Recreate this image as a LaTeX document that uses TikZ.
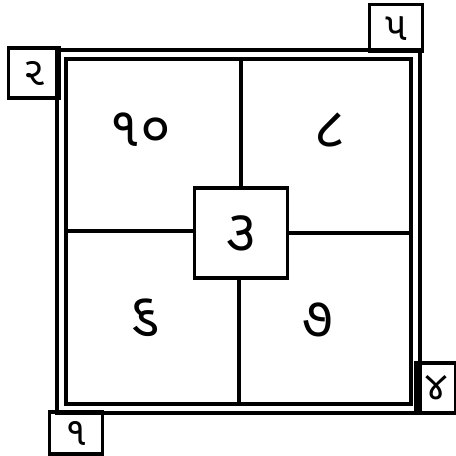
\documentclass[tikz,border=0pt]{standalone}
\usepackage{fontspec}
\newfontfamily\gujfont[Script=Gujarati]{Noto Sans Gujarati UI}
\usetikzlibrary{positioning}

\begin{document}
\begin{tikzpicture}[x=1bp, y=-1bp, line width=3.2pt,
    every node/.style={font=\gujfont},
    cellbox/.style={draw, line width=3.2pt, inner sep=0pt,
        font=\gujfont\fontsize{40}{40}\selectfont},
    numtext/.style={inner sep=0pt, font=\gujfont\fontsize{56}{56}\selectfont}]
  \useasboundingbox (0,0) rectangle (456,456);

  % double frame
  \draw (57,50) rectangle (420,413);
  \draw (66,59) rectangle (411,404);

  % centre box and the four fields
  \node[cellbox, fill=white, minimum width=93bp, minimum height=90bp,
        font=\gujfont\fontsize{58}{58}\selectfont] (mid) at (241,233) {૩};
  \coordinate (top) at (241,59);
  \coordinate (bot) at (239,404);
  \coordinate (lft) at (66,231);
  \coordinate (rgt) at (411,233);
  \draw (mid.north) -- (top);
  \draw (mid.south -| bot) -- (bot);
  \draw (mid.west |- lft) -- (lft);
  \draw (mid.east |- rgt) -- (rgt);

  \node[numtext] (q1) at (140,130) {૧૦};
  \node[numtext] (q2) at (330,130) {૮};
  \node[numtext] (q3) at (145,318) {૬};
  \node[numtext] (q4) at (318,320) {૭};

  % corner boxes
  \node[cellbox, minimum width=51bp, minimum height=50bp] (c1) at (34,73) {૨};
  \node[cellbox, minimum width=53bp, minimum height=47bp] (c2) at (396,28) {૫};
  \node[cellbox, minimum width=40bp, minimum height=50bp] (c3) at (436,388) {૪};
  \node[cellbox, minimum width=53bp, minimum height=42bp] (c4) at (76,433) {૧};
\end{tikzpicture}
\end{document}
